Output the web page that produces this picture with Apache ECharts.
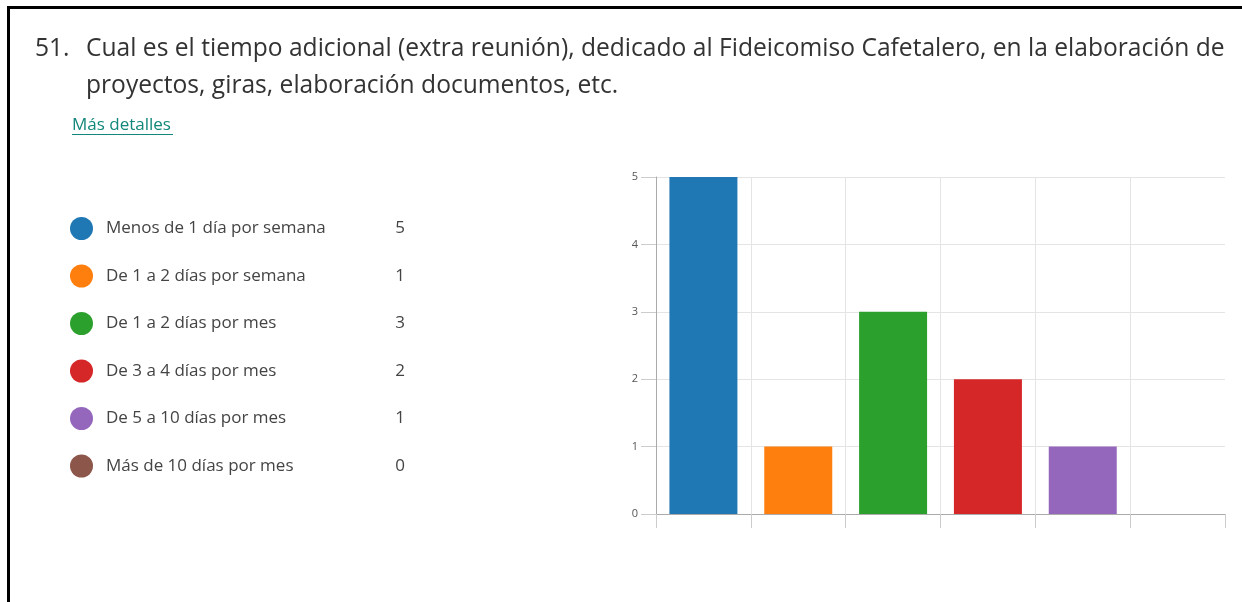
<!DOCTYPE html>
<html>
<head>
<meta charset="utf-8">
<script src="https://cdn.jsdelivr.net/npm/echarts@6.0.0/dist/echarts.min.js"></script>
<style>
  html, body { margin: 0; padding: 0; background: #fff; }
  #chart { width: 1242px; height: 602px; }
</style>
</head>
<body>
<div id="chart"></div>
<script>
const questionNumber = '51.';
const questionText = 'Cual es el tiempo adicional (extra reunión), dedicado al Fideicomiso Cafetalero, en la elaboración de\nproyectos, giras, elaboración documentos, etc.';
const categories = [
  'Menos de 1 día por semana',
  'De 1 a 2 días por semana',
  'De 1 a 2 días por mes',
  'De 3 a 4 días por mes',
  'De 5 a 10 días por mes',
  'Más de 10 días por mes',
];
const counts = [5, 1, 3, 2, 1, 0];
const colors = ['#1f77b4', '#ff7f0e', '#2ca02c', '#d62728', '#9467bd', '#8c564b'];
const yTicks = { min: 0, max: 5, interval: 1 };

const fontFamily = '"Open Sans", "Noto Sans", sans-serif';

// one series per answer so the legend can list them with their counts
const series = categories.map((name, i) => ({
  name,
  type: 'bar',
  stack: 'all',
  barWidth: 68,
  itemStyle: { color: colors[i] },
  data: counts.map((v, j) => (j === i ? v : '-')),
}));

const option = {
  animation: false,
  textStyle: { fontFamily },
  color: colors,
  grid: { left: 656, right: 17, top: 177, bottom: 88 },
  legend: {
    orient: 'vertical',
    left: 65,
    top: 212,
    icon: 'circle',
    itemWidth: 23,
    itemHeight: 23,
    itemGap: 24.5,
    selectedMode: false,
    data: categories,
    formatter: (name) => `{n|${name}}{v|${counts[categories.indexOf(name)]}}`,
    textStyle: {
      rich: {
        n: { fontSize: 17, color: '#444', width: 287, padding: [0, 0, 0, 8], fontFamily },
        v: { fontSize: 17, color: '#444', width: 12, align: 'right', fontFamily },
      },
    },
  },
  xAxis: {
    type: 'category',
    data: categories,
    axisLabel: { show: false },
    axisLine: { lineStyle: { color: '#aaa' } },
    axisTick: { show: true, interval: 0, length: 14, lineStyle: { color: '#ccc' } },
    splitLine: { show: true, interval: 0, showMaxLine: false, lineStyle: { color: '#e4e4e4' } },
  },
  yAxis: {
    type: 'value',
    min: yTicks.min,
    max: yTicks.max,
    interval: yTicks.interval,
    axisLine: { show: true, lineStyle: { color: '#aaa' } },
    axisTick: { show: true, length: 15, lineStyle: { color: '#ccc' } },
    axisLabel: { fontSize: 11, color: '#555', margin: 18 },
    splitLine: { lineStyle: { color: '#e4e4e4' } },
  },
  graphic: [
    // frame
    { type: 'line', shape: { x1: 8, y1: 7.5, x2: 1242, y2: 7.5 }, style: { stroke: '#000', lineWidth: 3 } },
    { type: 'line', shape: { x1: 8.5, y1: 6, x2: 8.5, y2: 602 }, style: { stroke: '#000', lineWidth: 3 } },
    {
      type: 'text', left: 35, top: 30.5,
      style: { text: questionNumber, fontSize: 24.6, lineHeight: 37, fill: '#333', fontFamily },
    },
    {
      type: 'text', left: 86, top: 30.5,
      style: { text: questionText, fontSize: 24.6, lineHeight: 37, fill: '#333', fontFamily },
    },
    {
      type: 'text', left: 72, top: 116.5,
      style: { text: 'Más detalles', fontSize: 17, fill: '#12877a', fontFamily },
    },
    { type: 'line', shape: { x1: 72, y1: 134.5, x2: 173, y2: 134.5 }, style: { stroke: '#12877a', lineWidth: 1 } },
  ],
  series,
};

const chart = echarts.init(document.getElementById('chart'));
chart.setOption(option);
</script>
</body>
</html>
